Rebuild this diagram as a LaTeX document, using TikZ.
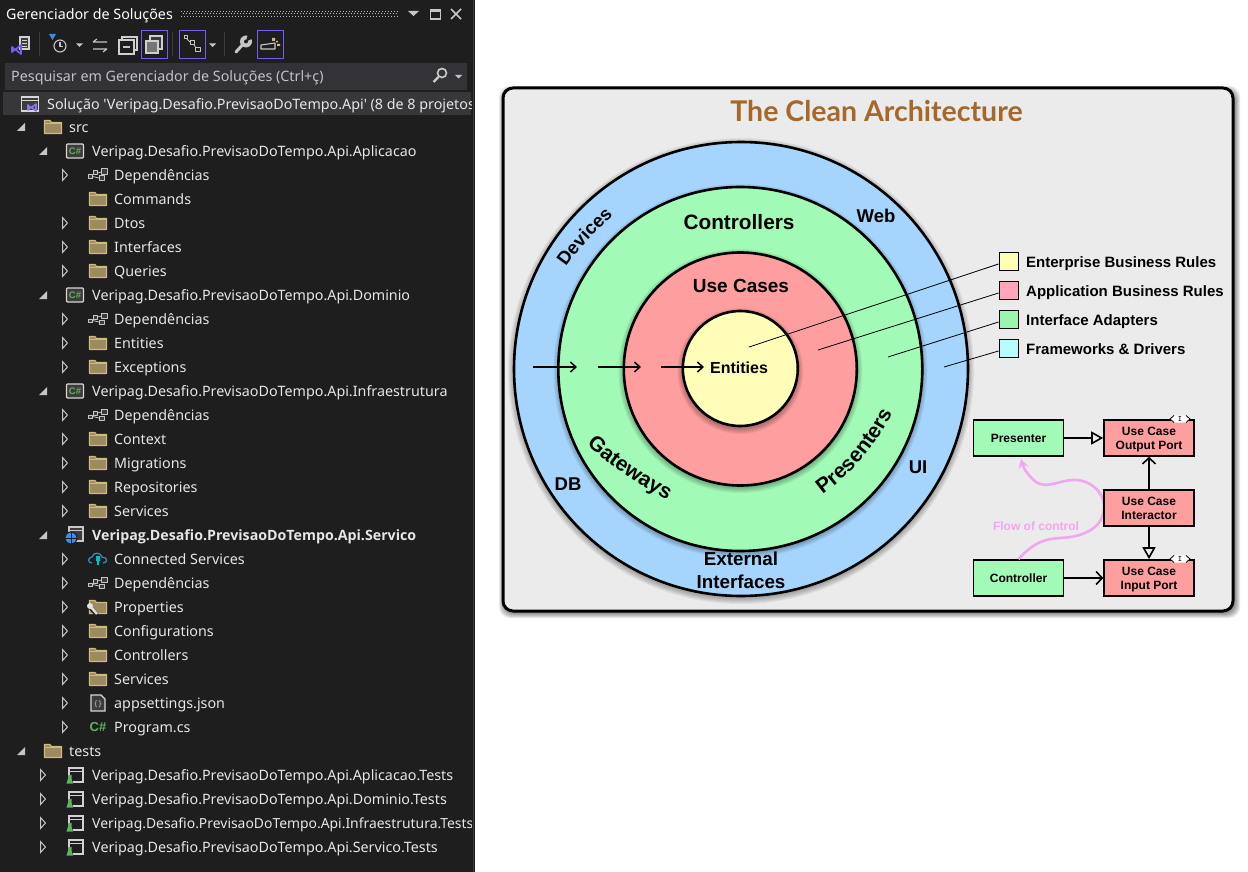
\documentclass[tikz,border=0pt]{standalone}
\usepackage{fontspec}
\usetikzlibrary{arrows.meta,decorations.text,shapes.geometric}
\setmainfont{Noto Sans}
\newfontfamily\hvf{Liberation Sans}
\newfontfamily\titlefont{Lato}
\newfontfamily\plainf{Noto Sans}
\newfontfamily\treebold{Open Sans}
\definecolor{ide}{HTML}{1E1E1E}
\definecolor{idetext}{HTML}{E6E6E6}
\definecolor{icon}{HTML}{C6C6C6}
\definecolor{iconbox}{HTML}{3C3C3C}
\definecolor{purpl}{HTML}{7160E8}
\definecolor{foldln}{HTML}{D2B97F}
\definecolor{foldfl}{HTML}{9C8A60}
\definecolor{csgrn}{HTML}{5FB35F}
\definecolor{ringb}{HTML}{A5D5FC}
\definecolor{ringg}{HTML}{A1FBB6}
\definecolor{ringr}{HTML}{FF9E9E}
\definecolor{ringy}{HTML}{FFFDB8}
\definecolor{flow}{HTML}{F2A6EE}
\definecolor{titlec}{HTML}{A5672A}
\definecolor{searchbg}{HTML}{333337}
\definecolor{selrow}{HTML}{37373A}
\definecolor{searchtx}{HTML}{BFC3C8}
\definecolor{panelbg}{HTML}{EBEBEB}
\definecolor{lgy}{HTML}{FFFFB3}
\definecolor{lgp}{HTML}{FFA6BC}
\definecolor{lgg}{HTML}{9AF5AE}
\definecolor{lgc}{HTML}{B8FBFF}
\tikzset{
 treetext/.style={inner sep=0pt,text height=14pt,text depth=3pt,text=idetext,font=\fontsize{14.3}{15}\selectfont,anchor=west},
 ring/.style={circle,draw=black,line width=2.6pt,inner sep=0pt},
 ringlabel/.style={inner sep=0pt,text=black,font=\hvf\bfseries\fontsize{#1}{#1}\selectfont},
 curved/.style={decorate,decoration={text along path,text align=center,text={#1}}},
 legendbox/.style={draw=black,line width=1pt,minimum width=19pt,minimum height=18pt,inner sep=0pt},
 legendtext/.style={inner sep=0pt,anchor=west,text height=11pt,text depth=3pt,font=\hvf\bfseries\fontsize{15}{17}\selectfont},
 leader/.style={draw=black,line width=.8pt},
 minibox/.style={draw=black,line width=1.6pt,minimum width=90pt,minimum height=36pt,inner sep=0pt,align=center,font=\hvf\bfseries\fontsize{12}{14}\selectfont},
 ginbox/.style={minibox,fill=ringg},
 rinbox/.style={minibox,fill=ringr},
 hollowarrow/.style={draw=black,line width=1.6pt,-{Triangle[open,length=12pt,width=13pt,line width=1.6pt]}},
 barbarrow/.style={draw=black,line width=1.6pt,-{Straight Barb[length=6pt,width=13pt,line width=1.6pt]}},
 flowarrow/.style={draw=black,line width=1.5pt,-{Straight Barb[length=5.5pt,width=10pt,line width=1.5pt]}},
 toolbox/.style={draw=purpl,line width=1pt,fill=none,minimum width=26pt,minimum height=28pt,inner sep=0pt},
 tl/.style={draw=icon,line width=1.1pt,line join=round},
 arrowe/.pic={\draw[icon,line width=1pt,line join=miter,fill=ide] (-2.5,-5.5) -- (2.5,0) -- (-2.5,5.5) -- cycle;},
 arrowc/.pic={\fill[icon] (4,-4) -- (4,4) -- (-4,4) -- cycle;},
 arrown/.pic={},
 foldericon/.pic={\draw[foldln,fill=foldfl,line width=1.1pt,line join=round] (-8.5,-6.5) -- (-3,-6.5) -- (-1.5,-4.5) -- (8.5,-4.5) -- (8.5,6.5) -- (-8.5,6.5) -- cycle;
   \draw[foldln,line width=1pt] (-8.5,-3.5) -- (8.5,-3.5);},
 depicon/.pic={\draw[tl,fill=iconbox,line width=1pt] (-9.5,0) rectangle (-5.5,3.5) (-5,-4) rectangle (-.5,0) (1,1) rectangle (6,5.5) (3.5,-6) rectangle (9.5,-.5);
   \draw[tl,line width=.8pt] (-5.5,1.5) -- (1,3) (-.5,-2) -- (3.5,-3);},
 csproj/.pic={\draw[draw=icon!70,fill=iconbox,line width=1.2pt,rounded corners=1pt] (-8.5,-7) rectangle (8.5,7);
   \node[inner sep=0pt,text=csgrn,font=\hvf\bfseries\fontsize{9.5}{10}\selectfont] at (0,0) {C\#};},
 webproj/.pic={\draw[draw=icon,fill=iconbox,line width=1.2pt] (-6,-8) rectangle (8,6);\draw[icon,line width=1.2pt] (-6,-4.5) -- (8,-4.5);
   \draw[draw=ide,line width=1pt,fill=blue!55!cyan!80] (-4,3) circle[radius=6pt];\draw[ide,line width=.5pt] (-10,3) -- (2,3) (-4,-3) -- (-4,9);},
 testproj/.pic={\draw[draw=icon!80,line width=1.2pt] (-6,-7) rectangle (8,7);\draw[icon!80,line width=1.2pt] (-6,-3.5) -- (8,-3.5);
   \fill[ide] (-9,0) rectangle (-2,9);\fill[csgrn] (-8.5,8.5) -- (-7,3.5) -- (-7,0) -- (-3.5,0) -- (-3.5,3.5) -- (-2,8.5) -- cycle;},
 cloudicon/.pic={\draw[draw=blue!40!cyan!60!gray,line width=1.2pt,line join=round] (-6,4) .. controls (-11,4) and (-10,-2) .. (-6,-2) .. controls (-5,-7) and (3,-7) .. (4,-2) .. controls (10,-2) and (10,4) .. (5,4);
   \fill[teal!50!cyan] (-2,-3) rectangle (2,2) (-.8,2) rectangle (.8,6);},
 propicon/.pic={\draw[foldln,fill=foldfl,line width=1.1pt] (-8.5,-6.5) -- (-3,-6.5) -- (-1.5,-4.5) -- (8.5,-4.5) -- (8.5,6.5) -- (-8.5,6.5) -- cycle;
   \draw[ide,line width=4pt] (-9,-1) -- (-1,8);\draw[icon!50!white,line width=2.4pt] (-8,-1) -- (-1,7);\fill[icon!50!white] (-8,-1) circle[radius=3pt];},
 jsonicon/.pic={\draw[draw=icon!70,fill=iconbox,line width=1.1pt] (-7,-8) -- (3,-8) -- (7,-4) -- (7,8) -- (-7,8) -- cycle;
   \node[inner sep=0pt,text=icon,font=\fontsize{8}{8}\selectfont] at (0,1) {\{\,\}};},
 csfile/.pic={\node[inner sep=0pt,text=csgrn,font=\hvf\bfseries\fontsize{13}{13}\selectfont] at (0,0) {C\#};},
 slnicon/.pic={\draw[draw=icon!70,fill=iconbox,line width=1.3pt] (-8.5,-7) rectangle (8.5,7);\draw[icon!70,line width=1.3pt] (-8.5,-3.5) -- (8.5,-3.5);
   \draw[purpl!85,line width=1.6pt,line join=round] (-2,1) -- (1,4) -- (6,0) -- (6,7) -- (1,3) -- (-2,6) -- cycle;},
}
\newcommand\titem[6]{%
 \ifcase#3\def\ax{21}\def\ix{53}\def\tx{69}\or\def\ax{43}\def\ix{75}\def\tx{92}\or\def\ax{65}\def\ix{98}\def\tx{114}\fi
 \pic at (\ax,#2) {arrow#4};
 \pic at (\ix,#2) {#5};
 \node[treetext] (#1) at (\tx,#2) {#6};}
\newcommand\softshadow[2]{%
 \foreach \k in {0,...,5}{\fill[black,opacity=.05] (#1) circle[radius=#2pt+\k pt];}}
\begin{document}
\begin{tikzpicture}[x=1pt,y=-1pt]
\useasboundingbox (0,0) rectangle (1248,872);
\fill[white] (0,0) rectangle (1248,872);
% ---------- IDE panel
\fill[ide] (0,0) rectangle (475,872);
\draw[iconbox,line width=1pt] (473,0) -- (473,872);
\node[treetext,text=white] (paneltitle) at (6,14) {Gerenciador de Soluções};
\foreach \yy/\off in {11.5/0,14/1.5,16.5/0}{\draw[gray!55,line width=1pt,dash pattern=on 1pt off 2pt,dash phase=\off pt] (181,\yy) -- (398,\yy);}
\fill[icon] (408,11) -- (419,11) -- (413.5,16) -- cycle;
\draw[icon,line width=1.2pt] (430.5,10) rectangle (440.5,19);\draw[icon,line width=2.4pt] (430.5,10.5) -- (440.5,10.5);
\draw[icon,line width=1.5pt] (451,9) -- (461,19) (461,9) -- (451,19);
% toolbar
\draw[draw=icon!80,line width=1.1pt,fill=iconbox] (20,37) rectangle (29,49);
\draw[icon!80,line width=.8pt] (22,40) -- (27,40) (22,43) -- (27,43) (22,46) -- (27,46);
\draw[purpl,line width=1.8pt,line join=round] (12,47) -- (15,50) -- (21,45) -- (21,54) -- (15,49) -- (12,52) -- cycle;
\draw[iconbox,line width=1pt] (39.5,32) -- (39.5,56) (172.5,32) -- (172.5,56) (224.5,32) -- (224.5,56);
\draw[tl] (60,46) circle[radius=6pt];\draw[tl] (60,42) -- (60,46.5) -- (63,46.5);
\fill[cyan!60!blue!80] (49,34) -- (56,34) -- (52.5,40) -- cycle;
\fill[icon] (76,43.5) -- (83,43.5) -- (79.5,47) -- cycle;
\draw[tl] (93,42) -- (107,42) (93,42) -- (97,39) (93,49) -- (107,49) (107,49) -- (103,52);
\draw[draw=icon!85,line width=1.3pt,fill=ide] (122,37) rectangle (137,50);\draw[draw=icon!85,line width=1.3pt,fill=ide] (119,40) rectangle (134,54);\draw[tl] (123,47) -- (130,47);
\node[toolbox,minimum width=26pt,minimum height=28pt] (tb1) at (154.5,44.5) {};
\draw[draw=icon!85,line width=1.1pt,fill=iconbox] (150,36) rectangle (162,49);\draw[draw=icon!85,line width=1.1pt,fill=iconbox!70] (146,41) rectangle (158,53);
\node[toolbox] (tb2) at (192.5,44.5) {};
\draw[tl,line width=1pt] (184,36) rectangle (187,39) (190,41) rectangle (194,45) (195,48) rectangle (200,52);\draw[tl,line width=.8pt] (187,39) -- (190,42) (194,45) -- (196,48);
\fill[icon] (209,43.5) -- (216,43.5) -- (212.5,47) -- cycle;
\draw[icon,line width=3pt,line cap=round] (236,52) -- (245,42);\fill[icon] (246,41.5) circle[radius=6pt];\fill[ide] (246,41.5) -- (248,34) -- (254,38) -- cycle;\fill[ide] (246,41.5) circle[radius=2pt];
\node[toolbox,minimum height=28pt] (tb3) at (270.5,44.5) {};
\draw[tl] (261,45) -- (268,44) -- (275,43) -- (275,49) -- (261,49) -- cycle;
\fill[foldln] (272,38) rectangle (275,41) (277,44) rectangle (280,46) (276,41) rectangle (278,42.5);
% search
\fill[searchbg] (5,63) rectangle (467,90);
\node[treetext,text=searchtx] (search) at (11,76) {Pesquisar em Gerenciador de Soluções (Ctrl+ç)};
\draw[icon!90!white,line width=1.6pt] (442,73) circle[radius=4.5pt];\draw[icon!90!white,line width=2.4pt] (438.5,77) -- (433.5,82);
\fill[icon] (455,75) -- (462,75) -- (458.5,78.5) -- cycle;
% tree
\fill[selrow] (3,92) rectangle (471,115);
\begin{scope}
\clip (0,0) rectangle (471,872);
\pic at (30,104) {slnicon};
\node[treetext] (sln) at (47,104) {\plainf Solução 'Veripag.Desafio.PrevisaoDoTempo.Api' (8 de 8 projetos};
\titem{t1}{775}{1}{e}{testproj}{Veripag.Desafio.PrevisaoDoTempo.Api.Aplicacao.Tests}
\titem{t2}{799}{1}{e}{testproj}{Veripag.Desafio.PrevisaoDoTempo.Api.Dominio.Tests}
\titem{t3}{823}{1}{e}{testproj}{\fontsize{13.9}{15}\selectfont Veripag.Desafio.PrevisaoDoTempo.Api.Infraestrutura.Tests}
\titem{t4}{847}{1}{e}{testproj}{Veripag.Desafio.PrevisaoDoTempo.Api.Servico.Tests}
\end{scope}
\titem{src}{127}{0}{c}{foldericon}{src}
\titem{p1}{151}{1}{c}{csproj}{Veripag.Desafio.PrevisaoDoTempo.Api.Aplicacao}
\titem{a1}{175}{2}{e}{depicon}{Dependências}
\titem{a2}{199}{2}{n}{foldericon}{Commands}
\titem{a3}{223}{2}{e}{foldericon}{Dtos}
\titem{a4}{247}{2}{e}{foldericon}{Interfaces}
\titem{a5}{271}{2}{e}{foldericon}{Queries}
\titem{p2}{295}{1}{c}{csproj}{Veripag.Desafio.PrevisaoDoTempo.Api.Dominio}
\titem{b1}{319}{2}{e}{depicon}{Dependências}
\titem{b2}{343}{2}{e}{foldericon}{Entities}
\titem{b3}{367}{2}{e}{foldericon}{Exceptions}
\titem{p3}{391}{1}{c}{csproj}{Veripag.Desafio.PrevisaoDoTempo.Api.Infraestrutura}
\titem{c1}{415}{2}{e}{depicon}{Dependências}
\titem{c2}{439}{2}{e}{foldericon}{Context}
\titem{c3}{463}{2}{e}{foldericon}{Migrations}
\titem{c4x}{487}{2}{e}{foldericon}{Repositories}
\titem{c5}{511}{2}{e}{foldericon}{Services}
\titem{p4}{535}{1}{c}{webproj}{\treebold\bfseries\fontsize{14.2}{15}\selectfont Veripag.Desafio.PrevisaoDoTempo.Api.Servico}
\titem{d1}{559}{2}{e}{cloudicon}{Connected Services}
\titem{d2}{583}{2}{e}{depicon}{Dependências}
\titem{d3}{607}{2}{e}{propicon}{Properties}
\titem{d4}{631}{2}{e}{foldericon}{Configurations}
\titem{d5}{655}{2}{e}{foldericon}{Controllers}
\titem{d6}{679}{2}{e}{foldericon}{Services}
\titem{d7}{703}{2}{e}{jsonicon}{appsettings.json}
\titem{d8}{727}{2}{e}{csfile}{Program.cs}
\titem{tests}{751}{0}{c}{foldericon}{tests}
% ---------- Clean architecture panel
\foreach \k in {0,...,5}{\fill[black,opacity=.09,rounded corners=11pt] (504-\k,91-\k) rectangle (1235+\k,613+\k);}
\draw[black,line width=3pt,fill=panelbg,rounded corners=10pt] (503,88) rectangle (1233,611);
\node[inner sep=0pt,text=titlec,font=\titlefont\bfseries\fontsize{28.5}{30}\selectfont] (title) at (876.5,111) {The Clean Architecture};
% circles
\softshadow{741,371}{228}
\node[ring,fill=ringb,minimum size=454pt] (outer) at (741,369) {};
\softshadow{740.3,371}{182}
\node[ring,fill=ringg,minimum size=364pt] (mid) at (740.3,369) {};
\softshadow{740.3,371}{117}
\node[ring,fill=ringr,minimum size=233pt] (inner) at (740.3,369) {};
\softshadow{740.3,371}{58}
\node[ring,fill=ringy,minimum size=115pt] (core) at (740.3,368.5) {};
\node[ringlabel=16] (entities) at (739,368) {Entities};
\node[ringlabel=19] (usecases) at (741,286) {Use Cases};
\node[ringlabel=20.8] (controllers) at (739,222) {Controllers};
\node[ringlabel=18.5] (web) at (876,216) {Web};
\node[ringlabel=18.5] (db) at (568,484) {DB};
\node[ringlabel=18.5] (ui) at (918,467) {UI};
\node[ringlabel=18.8] (external) at (741,559) {External};
\node[ringlabel=18.8] (interfaces) at (741,582) {Interfaces};
\path[curved={|\hvf\bfseries\fontsize{18.5}{20}\selectfont|Devices}] (564,270) .. controls (577,250) and (595,232) .. (616,213);
\path[curved={|\hvf\bfseries\fontsize{21}{22}\selectfont|Gateways}] (582,440) .. controls (605,463) and (637,484) .. (673,503);
\path[curved={|\hvf\bfseries\fontsize{21}{22}\selectfont|Presenters}] (818,498) .. controls (847,478) and (874,450) .. (895,408);
% inward arrows
\coordinate (f1a) at (533,367);\coordinate (f1b) at (577,367);
\coordinate (f2a) at (598,367);\coordinate (f2b) at (641,367);
\coordinate (f3a) at (661,367);\coordinate (f3b) at (704,367);
\draw[flowarrow] (f1a) -- (f1b);
\draw[flowarrow] (f2a) -- (f2b);
\draw[flowarrow] (f3a) -- (f3b);
% legend
\node[legendbox,fill=lgy] (lg1) at (1008.5,261) {};
\node[legendbox,fill=lgp] (lg2) at (1008.5,290) {};
\node[legendbox,fill=lgg] (lg3) at (1008.5,319) {};
\node[legendbox,fill=lgc] (lg4) at (1008.5,348) {};
\node[legendtext] (lt1) at (1026,263) {Enterprise Business Rules};
\node[legendtext] (lt2) at (1026,292) {Application Business Rules};
\node[legendtext] (lt3) at (1026,321) {Interface Adapters};
\node[legendtext] (lt4) at (1026,350) {Frameworks \& Drivers};
\coordinate (l1) at (749,347);\coordinate (l2) at (818,350);\coordinate (l3) at (888,357);\coordinate (l4) at (944,367);
\draw[leader] (l1) -- ([yshift=-3pt]lg1.west);
\draw[leader] (l2) -- ([yshift=-3pt]lg2.west);
\draw[leader] (l3) -- ([yshift=-3pt]lg3.west);
\draw[leader] (l4) -- ([yshift=-3pt]lg4.west);
% mini diagram
\coordinate (fc) at (1021,459);
\node[ginbox,anchor=center] (pre) at (1018.5,438) {Presenter};
\node[ginbox] (ctl) at (1018.5,578) {Controller};
\draw[flow,line width=2.6pt,-{Stealth[length=9pt,width=10pt]}] (ctl.north) .. controls (1034,542) and (1045,539) .. (1060,538) .. controls (1085,537) and (1104,527) .. (1104,507) .. controls (1104,490) and (1088,479) .. (1072,480) .. controls (1058,481) and (1046,489) .. (1036,482) .. controls (1030,477) and (1024,470) .. (fc);
\node[rinbox] (opp) at (1149,438) {\rule{0pt}{11.5pt}Use Case\\Output Port};
\node[rinbox] (itr) at (1149,508) {Use Case\\Interactor};
\node[rinbox] (ipp) at (1149,578) {\rule{0pt}{11.5pt}Use Case\\Input Port};
\node[inner sep=0pt,text=flow,font=\hvf\bfseries\fontsize{12}{14}\selectfont] (flowlabel) at (1036,526) {Flow of control};
\draw[hollowarrow] (pre) -- (opp);
\draw[barbarrow] (ctl) -- (ipp);
\draw[barbarrow] (itr) -- (opp);
\draw[hollowarrow] (itr) -- (ipp);
\foreach \yy in {419,559}{
 \fill[white] (1170,\yy) -- (1173,\yy-3.5) -- (1187,\yy-3.5) -- (1190,\yy) -- (1187,\yy+3.5) -- (1173,\yy+3.5) -- cycle;
 \draw[black,line width=.8pt] (1174,\yy-3.5) -- (1170,\yy) -- (1174,\yy+3.5) (1186,\yy-3.5) -- (1190,\yy) -- (1186,\yy+3.5);
 \node[inner sep=0pt,font=\ttfamily\bfseries\fontsize{8}{8}\selectfont] (tag\yy) at (1180,\yy) {I};}
\end{tikzpicture}
\end{document}
